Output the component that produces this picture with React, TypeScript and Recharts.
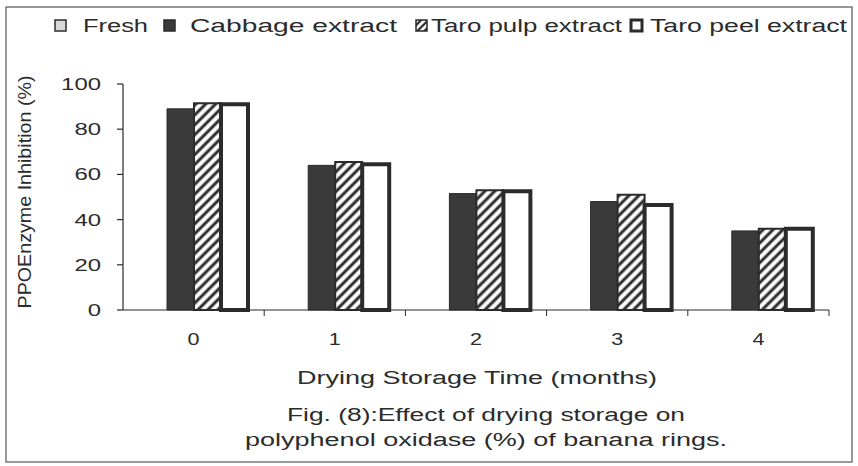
import React from 'react';
import { BarChart, Bar, XAxis, YAxis } from 'recharts';

// drying storage time (months)
const CATEGORIES = ['0', '1', '2', '3', '4'];

// PPO enzyme inhibition (%)
const FRESH = [0, 0, 0, 0, 0];
const CABBAGE = [89, 64, 51.5, 48, 35];
const TARO_PULP = [91.5, 65.5, 53, 51, 36];
const TARO_PEEL = [91, 64.5, 52.5, 46.5, 36];

const Y_TICKS = [0, 20, 40, 60, 80, 100];

const SERIES_NAMES = ['Fresh', 'Cabbage extract', 'Taro pulp extract', 'Taro peel extract'];

const W = 858;
const H = 466;
const MARGIN = { top: 84, right: 29, left: 63, bottom: 126 };
const Y_AXIS_W = 60;
const PLOT_LEFT = MARGIN.left + Y_AXIS_W;
const PLOT_W = W - PLOT_LEFT - MARGIN.right;
const BAND = PLOT_W / CATEGORIES.length;

const FONT = '"Liberation Sans", Arial, sans-serif';
const INK = '#2b2b2b';

const data = CATEGORIES.map((c, i) => ({
  month: c,
  fresh: FRESH[i],
  cabbage: CABBAGE[i],
  pulp: TARO_PULP[i],
  peel: TARO_PEEL[i],
}));

const YTick = (props: any) => {
  const { x, y, payload } = props;
  const s = String(payload.value);
  return (
    <text
      x={x - 2}
      y={y + 6}
      textAnchor="end"
      fontFamily={FONT}
      fontSize={17}
      fill={INK}
      textLength={s.length * 13.3}
      lengthAdjust="spacingAndGlyphs"
    >
      {s}
    </text>
  );
};

const XTick = (props: any) => {
  const { x, y, payload } = props;
  return (
    <g>
      {/* tick marks sit on the category boundaries */}
      <line x1={x + BAND / 2} x2={x + BAND / 2} y1={y - 8} y2={y - 2} stroke={INK} strokeWidth={1} />
      <text
        x={x}
        y={y + 27}
        textAnchor="middle"
        fontFamily={FONT}
        fontSize={17}
        fill={INK}
        textLength={12}
        lengthAdjust="spacingAndGlyphs"
      >
        {payload.value}
      </text>
    </g>
  );
};

// legend layout (x of swatch, x of text, text width)
const LEGEND_POS = [
  [55, 83, 65],
  [164, 190, 207],
  [416, 431, 191],
  [631, 650, 197],
];

const swatchFill = ['#d8d8d8', '#3a3a3a', 'url(#hatchLegend)', '#ffffff'];

export default function App() {
  return (
    <div style={{ position: 'absolute', left: 0, top: 0, width: W, height: H, background: '#fff' }}>
      <svg width={W} height={H} style={{ position: 'absolute', left: 0, top: 0 }}>
        <defs>
          <pattern id="hatchLegend" patternUnits="userSpaceOnUse" width={5} height={5} patternTransform="rotate(45)">
            <rect width={5} height={5} fill="#fff" />
            <line x1={2} y1={0} x2={2} y2={5} stroke={INK} strokeWidth={2.2} />
          </pattern>
        </defs>
        <rect x={6} y={7} width={846} height={455} fill="none" stroke="#555" strokeWidth={1.2} />
        {SERIES_NAMES.map((name, i) => (
          <g key={name}>
            <rect
              x={LEGEND_POS[i][0]}
              y={20}
              width={11}
              height={11}
              fill={swatchFill[i]}
              stroke={INK}
              strokeWidth={i === 3 ? 3 : 1.5}
            />
            <text
              x={LEGEND_POS[i][1]}
              y={32}
              fontFamily={FONT}
              fontSize={18}
              fill={INK}
              textLength={LEGEND_POS[i][2]}
              lengthAdjust="spacingAndGlyphs"
            >
              {name}
            </text>
          </g>
        ))}
        <text
          x={25}
          y={192}
          transform="rotate(-90 25 192)"
          textAnchor="middle"
          dominantBaseline="central"
          fontFamily={FONT}
          fontSize={18}
          fill={INK}
          textLength={233}
          lengthAdjust="spacingAndGlyphs"
        >
          PPOEnzyme Inhibition (%)
        </text>
        <text x={477} y={384} textAnchor="middle" fontFamily={FONT} fontSize={18} fill={INK} textLength={360} lengthAdjust="spacingAndGlyphs">
          Drying Storage Time (months)
        </text>
        <text x={486} y={421} textAnchor="middle" fontFamily={FONT} fontSize={18} fill={INK} textLength={398} lengthAdjust="spacingAndGlyphs">
          Fig. (8):Effect of drying storage on
        </text>
        <text x={486} y={446} textAnchor="middle" fontFamily={FONT} fontSize={18} fill={INK} textLength={482} lengthAdjust="spacingAndGlyphs">
          polyphenol oxidase (%) of banana rings.
        </text>
      </svg>
      <div style={{ position: 'absolute', left: 0, top: 0 }}>
        <BarChart width={W} height={H} data={data} margin={MARGIN} barCategoryGap={17} barGap={0}>
          <defs>
            <pattern id="hatchBar" patternUnits="userSpaceOnUse" width={7} height={7} patternTransform="rotate(45)">
              <rect width={7} height={7} fill="#fff" />
              <line x1={2} y1={0} x2={2} y2={7} stroke={INK} strokeWidth={3} />
            </pattern>
          </defs>
          <XAxis
            dataKey="month"
            height={30}
            axisLine={{ stroke: INK, strokeWidth: 1.2 }}
            tickLine={false}
            tick={<XTick />}
            interval={0}
          />
          <YAxis
            width={Y_AXIS_W}
            domain={[0, 100]}
            ticks={Y_TICKS}
            interval={0}
            axisLine={{ stroke: INK, strokeWidth: 1.2 }}
            tickLine={{ stroke: INK, strokeWidth: 1.2 }}
            tickSize={6}
            tickMargin={14}
            tick={<YTick />}
          />
          <Bar dataKey="fresh" name={SERIES_NAMES[0]} fill="#d8d8d8" stroke="none" isAnimationActive={false} />
          <Bar dataKey="cabbage" name={SERIES_NAMES[1]} fill="#3a3a3a" stroke="#2a2a2a" strokeWidth={1} isAnimationActive={false} />
          <Bar dataKey="pulp" name={SERIES_NAMES[2]} fill="url(#hatchBar)" stroke={INK} strokeWidth={2} isAnimationActive={false} />
          <Bar dataKey="peel" name={SERIES_NAMES[3]} fill="#fff" stroke={INK} strokeWidth={4} isAnimationActive={false} />
        </BarChart>
      </div>
    </div>
  );
}
